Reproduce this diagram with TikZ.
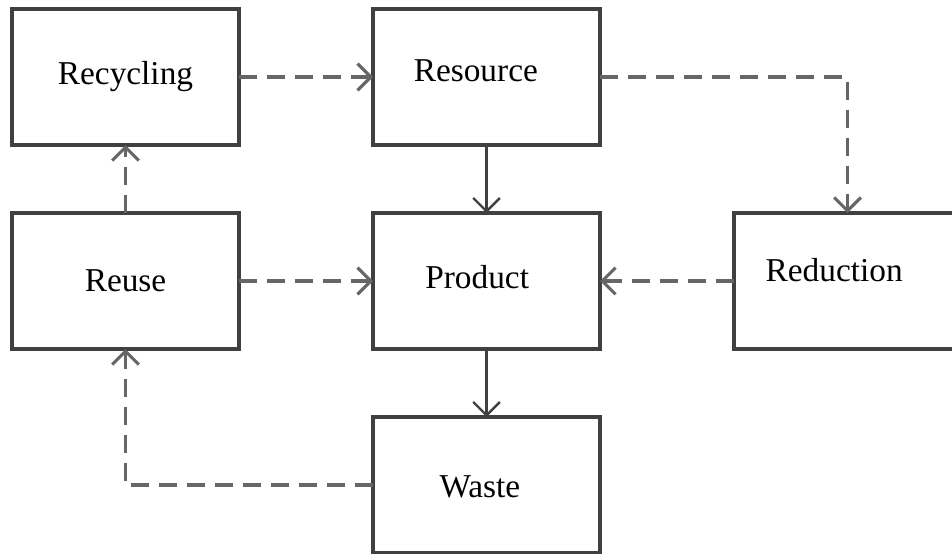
\documentclass[tikz,border=0pt]{standalone}
\usepackage{fontspec}
\setmainfont{Liberation Serif}
\usetikzlibrary{positioning,arrows.meta}

\begin{document}
\begin{tikzpicture}[
x=0.75pt, y=-0.75pt,
font=\fontsize{25}{30}\selectfont,
node distance=51pt and 100.5pt,
stage/.style={rectangle, draw=black!75, line width=2.4pt, outer sep=0pt, minimum width=170.25pt, minimum height=102pt},
flow/.style={draw=black!75, line width=1.8pt, -{Straight Barb[length=10pt,width=20pt]}},
loop/.style={draw=black!60, line width=2.3pt, dash pattern=on 13.5pt off 7.5pt, -{Straight Barb[length=10pt,width=20pt]}}
]
\useasboundingbox (0,0) rectangle (952,553);

\node[stage](recycling) at (125.5,77){Recycling};
\node[stage](resource)[right=of recycling, label={[xshift=-8pt,yshift=5pt]center:Resource}]{};

\node[stage](reuse)[below=of recycling]{Reuse};
\node[stage](product)[below=of resource, label={[xshift=-7pt,yshift=3pt]center:Product}]{};
\node[stage](reduction)[right=of product, label={[xshift=-10pt,yshift=8pt]center:Reduction}]{};

\node[stage](waste)[below=of product, label={[xshift=-5pt,yshift=-1pt]center:Waste}]{};

\draw[flow] (resource.south) -- (product.north);
\draw[flow] (product.south) -- (waste.north);

\draw[loop] (recycling.east) -- (resource.west);
\draw[loop] (resource.east) -| (reduction.north);
\draw[loop] (reduction.west) -- (product.east);
\draw[loop] (reuse.east) -- (product.west);
\draw[loop] (reuse.north) -- (recycling.south);
\draw[loop] (waste.west) -| (reuse.south);
\end{tikzpicture}
\end{document}
